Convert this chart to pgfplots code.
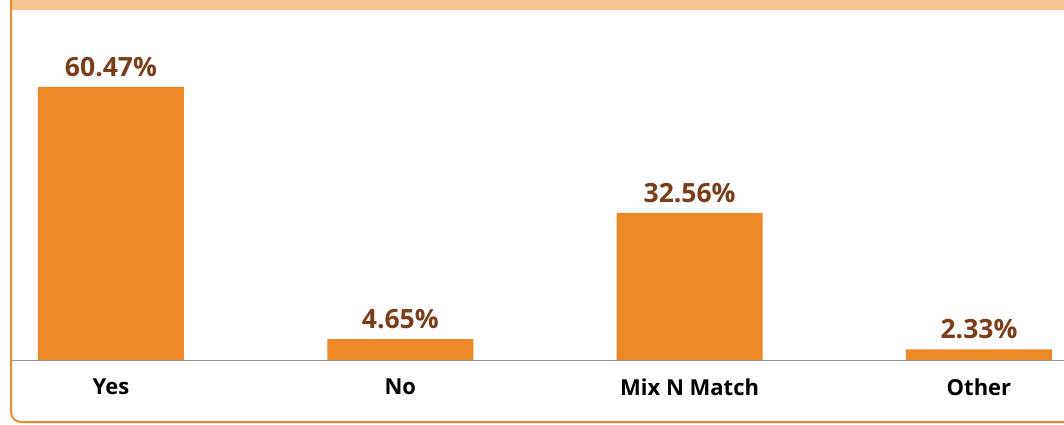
\documentclass[border=0pt]{standalone}
\usepackage{pgfplots}
\pgfplotsset{compat=1.18}
\usepackage{fontspec}
\setmainfont{Open Sans}
\definecolor{barc}{HTML}{EC8826}
\definecolor{lblc}{HTML}{7A3E1B}
\definecolor{peach}{HTML}{F8C593}
\definecolor{bord}{HTML}{F0892A}
\begin{document}
\begin{tikzpicture}[x=1pt,y=1pt]
\useasboundingbox (0,0) rectangle (1064,424);
\clip (0,0) rectangle (1064,424);
\fill[peach] (12,414) rectangle (1064,424);
\begin{axis}[
  at={(12pt,64pt)}, anchor=south west,
  scale only axis, width=1052pt, height=350pt,
  xmin=-0.342, xmax=3.294, ymin=0, ymax=77.5,
  axis x line*=bottom, axis y line=none,
  x axis line style={draw=gray!80, line width=1pt, -},
  xtick=data, xticklabels={Yes,No,Mix N Match,Other},
  xtick style={draw=none},
  ytick=\empty,
  x tick label style={font=\fontsize{22}{26}\selectfont\bfseries, text=black, yshift=-11pt},
  ybar, bar width=146pt,
  point meta=explicit symbolic,
  nodes near coords,
  every node near coord/.append style={font=\fontsize{26.5}{31}\selectfont\bfseries, text=lblc, yshift=7pt},
  clip=false,
]
\addplot[fill=barc, draw=none] coordinates {
  (0,60.47) [60.47\%]
  (1,4.65) [4.65\%]
  (2,32.56) [32.56\%]
  (3,2.33) [2.33\%]
};
\end{axis}
\draw[bord, line width=2pt, rounded corners=10pt] (11,425) -- (11,2) -- (1075,2);
\end{tikzpicture}
\end{document}
